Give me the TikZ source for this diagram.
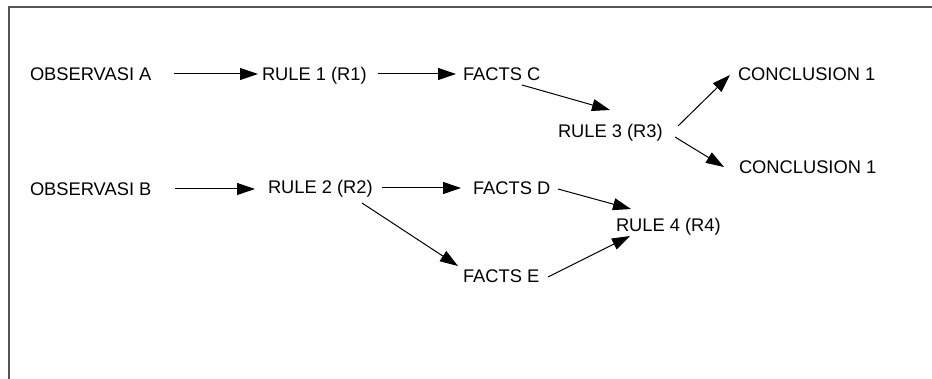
\documentclass[tikz,border=0pt]{standalone}
\usepackage{fontspec}
\setmainfont{Liberation Sans}
\usetikzlibrary{arrows.meta}
\begin{document}
\begin{tikzpicture}[x=1pt,y=-1pt,
  lbl/.style={anchor=west,inner sep=0pt,outer sep=0pt,text height=13pt,text depth=0pt,font=\fontsize{18.3pt}{20pt}\selectfont},
  arr/.style={line width=1pt,-{Triangle[length=18pt,width=12pt]}},
  frameline/.style={line width=2pt,draw={rgb,255:red,85;green,85;blue,85}}]
\useasboundingbox (0,0) rectangle (932,379);
\fill[white] (0,0) rectangle (932,379);
\draw[frameline] (9,379) -- (9,7) -- (932,7);
\node[lbl] (obsA) at (30,74) {OBSERVASI A};
\node[lbl] (r1) at (262,74) {RULE 1 (R1)};
\node[lbl] (fc) at (463,74) {FACTS C};
\node[lbl] (c1) at (738,74) {CONCLUSION 1};
\node[lbl] (r3) at (558,131) {RULE 3 (R3)};
\node[lbl] (c2) at (739,167) {CONCLUSION 1};
\node[lbl] (obsB) at (30,189) {OBSERVASI B};
\node[lbl] (r2) at (268,187) {RULE 2 (R2)};
\node[lbl] (fd) at (473,188) {FACTS D};
\node[lbl] (r4) at (616,225) {RULE 4 (R4)};
\node[lbl] (fe) at (463,276) {FACTS E};
\draw[arr] ([shift={(144,0)}]obsA.west) -- ([shift={(-4,0)}]r1.west);
\draw[arr] ([shift={(116,0)}]r1.west) -- ([shift={(-7,0)}]fc.west);
\draw[arr] ([shift={(59,11)}]fc.west) -- ([shift={(52,-21)}]r3.west);
\draw[arr] ([shift={(120,-5)}]r3.west) -- ([shift={(-8,1)}]c1.west);
\draw[arr] ([shift={(117,6)}]r3.west) -- ([shift={(-15,0)}]c2.west);
\draw[arr] ([shift={(145,0)}]obsB.west) -- ([shift={(-13,2)}]r2.west);
\draw[arr] ([shift={(114,1)}]r2.west) -- ([shift={(-12,0)}]fd.west);
\draw[arr] ([shift={(94,16)}]r2.west) -- ([shift={(-5,-10)}]fe.west);
\draw[arr] ([shift={(85,1)}]fd.west) -- ([shift={(15,-16)}]r4.west);
\draw[arr] ([shift={(85,1)}]fe.west) -- ([shift={(14,11)}]r4.west);
\end{tikzpicture}
\end{document}
